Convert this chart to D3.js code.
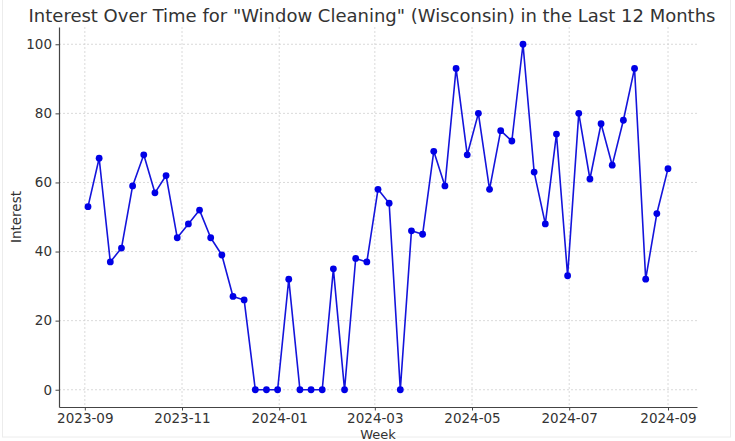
<!DOCTYPE html>
<html>
<head>
<meta charset="utf-8">
<script src="https://cdn.jsdelivr.net/npm/d3@7"></script>
<style>
  body { margin: 0; background: #fff; }
  text { font-family: "DejaVu Sans", sans-serif; fill: #333; }
  .grid line { stroke: #d0d0d0; stroke-dasharray: 2,2; stroke-width: 0.8; }
  .axis path, .axis line { stroke: #444; }
</style>
</head>
<body>
<div id="chart"></div>
<script>
// weekly values, first week starts 2023-09-03
var startWeek = "2023-09-03";
var interest = [53, 67, 37, 41, 59, 68, 57, 62, 44, 48, 52, 44, 39, 27, 26, 0, 0, 0, 32, 0,
  0, 0, 35, 0, 38, 37, 58, 54, 0, 46, 45, 69, 59, 93, 68, 80, 58, 75, 72, 100,
  63, 48, 74, 33, 80, 61, 77, 65, 78, 93, 32, 51, 64];
var xTicks = ["2023-09-01", "2023-11-01", "2024-01-01", "2024-03-01", "2024-05-01", "2024-07-01", "2024-09-01"];
var yTicks = [0, 20, 40, 60, 80, 100];

var parse = d3.utcParse("%Y-%m-%d");
var start = parse(startWeek);
var data = interest.map(function(v, i) {
  return { week: d3.utcDay.offset(start, i * 7), value: v };
});

var W = 735, H = 441;
var margin = { top: 27, right: 38, bottom: 34, left: 59 };
var width = W - margin.left - margin.right;
var height = H - margin.top - margin.bottom;

var svg = d3.select("#chart").append("svg")
  .attr("width", W)
  .attr("height", H);

// faint frame of the screenshot
svg.append("rect")
  .attr("x", 2.5).attr("y", -1)
  .attr("width", 728).attr("height", 438)
  .attr("fill", "none")
  .attr("stroke", "#ececec");

var g = svg.append("g")
  .attr("transform", "translate(" + margin.left + "," + margin.top + ")");

var xExt = d3.extent(data, function(d) { return d.week; });
var pad = (xExt[1] - xExt[0]) * 0.05;
var x = d3.scaleUtc()
  .domain([new Date(+xExt[0] - pad), new Date(+xExt[1] + pad)])
  .range([0, width]);

var y = d3.scaleLinear()
  .domain([-5, 105])
  .range([height, 0]);

// grid
g.append("g").attr("class", "grid")
  .selectAll("line").data(yTicks).enter().append("line")
  .attr("x1", 0).attr("x2", width)
  .attr("y1", function(d) { return y(d); })
  .attr("y2", function(d) { return y(d); });

g.append("g").attr("class", "grid")
  .selectAll("line").data(xTicks).enter().append("line")
  .attr("y1", 0).attr("y2", height)
  .attr("x1", function(d) { return x(parse(d)); })
  .attr("x2", function(d) { return x(parse(d)); });

// axes
g.append("g")
  .attr("class", "axis")
  .attr("transform", "translate(0," + height + ")")
  .call(d3.axisBottom(x)
    .tickValues(xTicks.map(parse))
    .tickFormat(d3.utcFormat("%Y-%m"))
    .tickSize(3.5).tickPadding(2.5)
    .tickSizeOuter(0));

g.append("g")
  .attr("class", "axis")
  .call(d3.axisLeft(y)
    .tickValues(yTicks)
    .tickSize(3.5).tickPadding(3.5)
    .tickSizeOuter(0));

g.selectAll(".axis text").style("font-size", "13.5px").attr("fill", "#333");
g.selectAll(".axis .domain").attr("stroke-width", 1.2);

// line + markers
var line = d3.line()
  .x(function(d) { return x(d.week); })
  .y(function(d) { return y(d.value); });

g.append("path")
  .datum(data)
  .attr("fill", "none")
  .attr("stroke", "#1414dc")
  .attr("stroke-width", 1.6)
  .attr("stroke-linejoin", "round")
  .attr("d", line);

g.selectAll(".dot")
  .data(data)
  .enter().append("circle")
  .attr("class", "dot")
  .attr("r", 3.4)
  .attr("cx", function(d) { return x(d.week); })
  .attr("cy", function(d) { return y(d.value); })
  .attr("fill", "#0000e6");

// labels
svg.append("text")
  .attr("x", 372).attr("y", 22)
  .attr("text-anchor", "middle")
  .style("font-size", "18px")
  .text('Interest Over Time for "Window Cleaning" (Wisconsin) in the Last 12 Months');

svg.append("text")
  .attr("x", margin.left + width / 2).attr("y", 439)
  .attr("text-anchor", "middle")
  .style("font-size", "13px")
  .text("Week");

svg.append("text")
  .attr("transform", "translate(21," + (margin.top + height / 2) + ")rotate(-90)")
  .attr("text-anchor", "middle")
  .style("font-size", "13.5px")
  .text("Interest");
</script>
</body>
</html>
